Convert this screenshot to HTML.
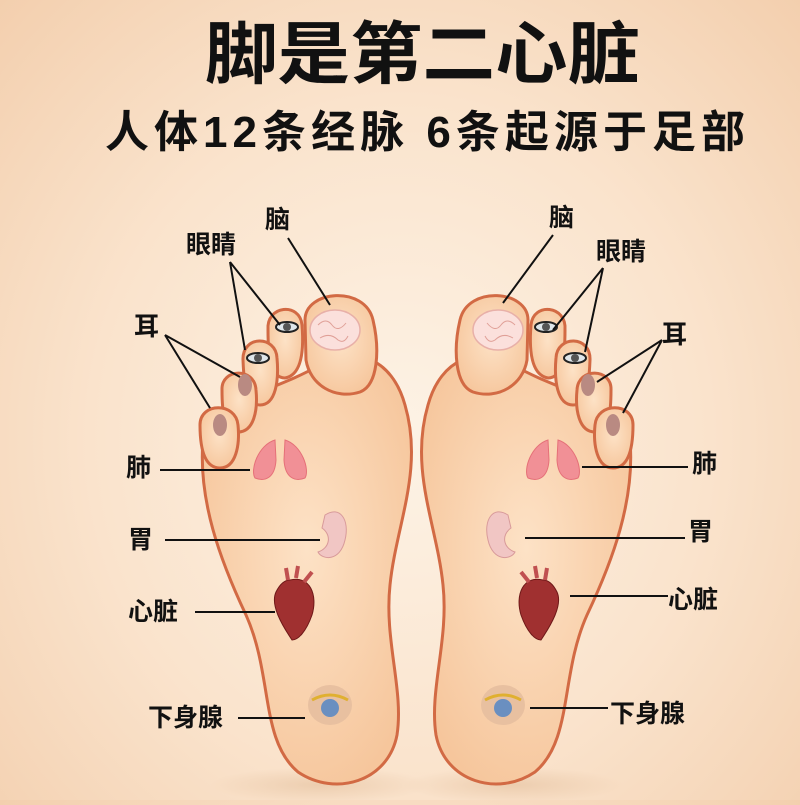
<!DOCTYPE html>
<html><head><meta charset="utf-8"><style>
html,body{margin:0;padding:0}
body{width:800px;height:800px;overflow:hidden;background:radial-gradient(ellipse at 50% 55%,#fdf3e6 0%,#fae3cc 55%,#f3cfae 100%);font-family:"Liberation Sans","Noto Sans CJK SC",sans-serif}
</style></head><body>
<svg width="800" height="800" viewBox="0 0 800 800" xmlns="http://www.w3.org/2000/svg">
<defs>
<radialGradient id="sk" cx="50%" cy="45%" r="60%"><stop offset="0" stop-color="#fde2c6"/><stop offset="1" stop-color="#f6c69c"/></radialGradient>
<radialGradient id="sh" cx="50%" cy="50%" r="50%"><stop offset="0" stop-color="#e9c8a8" stop-opacity=".8"/><stop offset="1" stop-color="#e9c8a8" stop-opacity="0"/></radialGradient>
<g id="foot">
<ellipse cx="320" cy="785" rx="110" ry="18" fill="url(#sh)"/>
<g fill="url(#sk)" stroke="#d26a44" stroke-width="3">
<path d="M203,440 C198,500 220,560 246,615 C273,675 260,740 298,772 C335,797 388,782 397,735 C404,690 384,640 390,585 C396,525 424,470 405,405 C392,358 355,345 320,365 C285,385 245,395 225,410 C212,420 204,430 203,440Z"/>
<path d="M305,320 C305,290 365,285 373,320 C380,350 378,385 360,392 C335,400 310,385 306,360Z"/>
<path d="M268,330 C266,305 300,302 302,325 C304,350 302,375 285,378 C270,378 268,355 268,330Z"/>
<path d="M243,360 C242,335 276,335 277,358 C279,380 276,405 260,405 C246,405 244,385 243,360Z"/>
<path d="M222,390 C221,368 255,367 256,390 C258,410 254,432 238,432 C224,432 222,412 222,390Z"/>
<path d="M200,425 C200,402 236,402 238,425 C240,445 236,468 220,468 C204,468 200,448 200,425Z"/>
</g>
<ellipse cx="335" cy="330" rx="25" ry="20" fill="#fbe0dc" stroke="#e8b0a8" stroke-width="1.5"/>
<path d="M318,325 q8,-8 14,0 q6,8 14,-2 M320,338 q10,-6 18,2 q6,4 10,-4" stroke="#e0a098" fill="none"/>
<ellipse cx="287" cy="327" rx="11" ry="5" fill="#dfe6ea" stroke="#222" stroke-width="2"/><circle cx="287" cy="327" r="4" fill="#555"/>
<ellipse cx="258" cy="358" rx="11" ry="5" fill="#dfe6ea" stroke="#222" stroke-width="2"/><circle cx="258" cy="358" r="4" fill="#555"/>
<ellipse cx="245" cy="385" rx="7" ry="11" fill="#b98a82"/>
<ellipse cx="220" cy="425" rx="7" ry="11" fill="#b98a82"/>
<path d="M275,440 C258,445 250,470 255,478 C265,482 275,478 276,460Z M285,440 C302,445 310,470 305,478 C295,482 285,478 284,460Z" fill="#f19096" stroke="#e57078"/>
<path d="M325,515 C340,505 350,520 345,540 C340,562 322,560 318,552 C330,548 332,535 322,528Z" fill="#f1c6c4" stroke="#d89a9a"/>
<path d="M290,580 C310,575 318,595 312,615 C306,632 298,640 292,640 C282,625 270,605 276,592 C280,584 285,580 290,580Z" fill="#a03030" stroke="#6e1818"/>
<path d="M288,580 l-2,-12 M296,578 l2,-12 M304,582 l8,-10" stroke="#c05050" stroke-width="4"/>
<ellipse cx="330" cy="705" rx="22" ry="20" fill="#e8c0a0"/>
<circle cx="330" cy="708" r="9" fill="#6a8fc0"/><path d="M312,700 q18,-10 36,0" stroke="#e0b030" stroke-width="3" fill="none"/>
</g>
</defs>
<use href="#foot"/>
<use href="#foot" transform="translate(833,0) scale(-1,1)"/>
<g font-weight="bold" fill="#111" font-family="Liberation Sans,Noto Sans CJK SC,sans-serif">
<text x="205" y="78" font-size="68" textLength="435" lengthAdjust="spacingAndGlyphs">脚是第二心脏</text>
<text x="105" y="147" font-size="44" textLength="640" lengthAdjust="spacing">人体12条经脉  6条起源于足部</text>
</g>
<g font-size="25" font-weight="bold" fill="#111" font-family="Liberation Sans,Noto Sans CJK SC,sans-serif">
<text x="265" y="228">脑</text><text x="186" y="253">眼睛</text><text x="134" y="335">耳</text>
<text x="126" y="476">肺</text><text x="128" y="548">胃</text><text x="128" y="620">心脏</text><text x="148" y="726">下身腺</text>
<text x="549" y="226">脑</text><text x="596" y="260">眼睛</text><text x="662" y="343">耳</text>
<text x="692" y="472">肺</text><text x="688" y="540">胃</text><text x="668" y="608">心脏</text><text x="610" y="722">下身腺</text>
</g>
<g stroke="#111" stroke-width="2" fill="none">
<path d="M288,238 L330,305 M230,262 L280,325 M230,262 L245,350 M165,335 L240,377 M165,335 L210,408"/>
<path d="M160,470 L250,470 M165,540 L320,540 M195,612 L275,612 M238,718 L305,718"/>
<path d="M553,235 L503,303 M603,268 L553,330 M603,268 L585,352 M662,340 L597,382 M662,340 L623,413"/>
<path d="M582,467 L688,467 M525,538 L685,538 M570,596 L668,596 M530,708 L608,708"/>
</g>
</svg>
</body></html>
